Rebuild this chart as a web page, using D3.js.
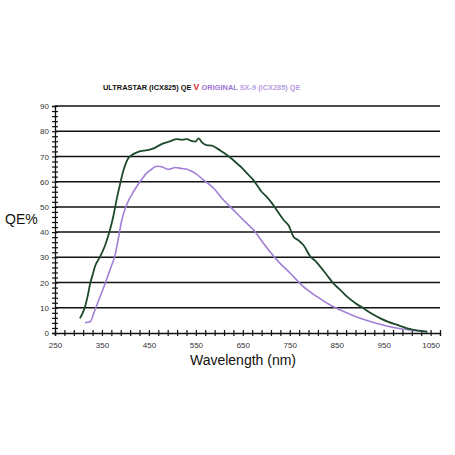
<!DOCTYPE html>
<html>
<head>
<meta charset="utf-8">
<script src="https://cdn.jsdelivr.net/npm/d3@7"></script>
<style>
  body { margin: 0; background: #fff; }
  svg { font-family: "Liberation Sans", Arial, sans-serif; }
</style>
</head>
<body>
<div id="chart"></div>
<script>
// wavelength (nm) / QE (%)
const ultraWl = [303, 309, 314, 320, 325, 330, 335, 346, 357, 367, 374, 381, 389, 396, 406, 414, 421, 430, 438, 450, 460, 470, 481, 495, 509, 520, 531, 540, 549, 556, 563, 573, 584, 595, 605, 616, 627, 637, 648, 659, 670, 680, 690, 701, 712, 723, 737, 748, 758, 768, 779, 794, 805, 815, 829, 843, 858, 872, 890, 907, 925, 943, 960, 979, 993, 1007, 1025, 1043];
const ultraQe = [5.8, 8.0, 10.4, 15.0, 19.7, 23.0, 26.3, 30.3, 34.9, 40.8, 46.1, 52.7, 59.4, 64.6, 69.3, 70.6, 71.3, 72.0, 72.3, 72.6, 73.2, 74.2, 75.2, 76.0, 76.9, 76.6, 76.9, 76.2, 75.9, 77.2, 75.6, 74.5, 74.3, 73.2, 72.0, 70.6, 69.0, 67.3, 65.5, 63.3, 61.2, 58.7, 56.0, 54.0, 51.5, 48.5, 44.8, 42.5, 38.2, 36.8, 34.9, 30.3, 28.5, 26.3, 23.0, 19.7, 17.0, 14.4, 11.8, 9.8, 7.6, 5.8, 4.4, 3.2, 2.3, 1.5, 0.9, 0.5];

const origWl = [314, 325, 335, 346, 357, 367, 378, 385, 392, 403, 417, 431, 445, 455, 463, 470, 477, 485, 492, 506, 520, 531, 540, 549, 566, 588, 609, 630, 651, 673, 694, 723, 751, 779, 808, 836, 865, 900, 936, 971, 1007, 1043];
const origQe = [4.1, 4.5, 9.1, 14.4, 19.7, 25.0, 31.0, 37.5, 44.5, 51.0, 56.0, 60.0, 63.3, 64.8, 65.9, 66.1, 65.9, 65.3, 64.9, 65.6, 65.2, 64.9, 64.2, 63.3, 60.7, 57.4, 52.7, 48.8, 44.8, 40.8, 35.6, 28.9, 23.7, 18.4, 14.4, 11.1, 8.5, 5.8, 3.8, 2.2, 1.2, 0.5];

const xLabels = [250, 350, 450, 550, 650, 750, 850, 950, 1050];
const yLabels = [0, 10, 20, 30, 40, 50, 60, 70, 80, 90];

const W = 455, H = 455;
const margin = { top: 106, right: 15, bottom: 122, left: 55 };
const width = W - margin.left - margin.right;
const height = H - margin.top - margin.bottom;

const svg = d3.select("#chart").append("svg")
    .attr("width", W)
    .attr("height", H);

const g = svg.append("g")
    .attr("transform", "translate(" + margin.left + "," + margin.top + ")");

const x = d3.scaleLinear().domain([250, 1070]).range([0, width]);
const y = d3.scaleLinear().domain([0, 90]).range([height, 0]);

// gridlines
g.append("g").selectAll("line")
    .data(yLabels.slice(1))
    .join("line")
    .attr("x1", 0)
    .attr("x2", width)
    .attr("y1", d => y(d))
    .attr("y2", d => y(d))
    .attr("stroke", "#111")
    .attr("stroke-width", 1.5);

// x axis, ticks cross the line
const xAxis = g.append("g")
    .attr("transform", "translate(0," + height + ")")
    .call(d3.axisBottom(x)
        .tickValues(d3.range(250, 1071, 20))
        .tickSize(3)
        .tickFormat(d => xLabels.includes(d) ? d : ""));
xAxis.select(".domain").attr("stroke", "#111").attr("stroke-width", 1.3);
xAxis.selectAll(".tick line").attr("y1", -3).attr("stroke", "#111").attr("stroke-width", 1.2);
xAxis.selectAll(".tick text")
    .attr("y", 9)
    .attr("font-size", 8)
    .attr("font-family", "Liberation Sans, Arial, sans-serif")
    .attr("fill", "#333");

// y axis
const yAxis = g.append("g")
    .call(d3.axisLeft(y)
        .tickValues(d3.range(0, 91, 2))
        .tickSize(3)
        .tickFormat(d => yLabels.includes(d) ? d : ""));
yAxis.select(".domain").attr("stroke", "#111").attr("stroke-width", 1.3);
yAxis.selectAll(".tick line").attr("x1", 3).attr("stroke", "#111").attr("stroke-width", 1.2);
yAxis.selectAll(".tick text")
    .attr("x", -6)
    .attr("font-size", 8)
    .attr("font-family", "Liberation Sans, Arial, sans-serif")
    .attr("fill", "#333");

const line = d3.line()
    .x(d => x(d[0]))
    .y(d => y(d[1]))
    .curve(d3.curveMonotoneX);

g.append("path")
    .datum(d3.zip(origWl, origQe))
    .attr("fill", "none")
    .attr("stroke", "#a27fd6")
    .attr("stroke-width", 1.6)
    .attr("d", line);

g.append("path")
    .datum(d3.zip(ultraWl, ultraQe))
    .attr("fill", "none")
    .attr("stroke", "#1d4a2c")
    .attr("stroke-width", 1.8)
    .attr("d", line);

// title
const title = svg.append("text")
    .attr("x", 103)
    .attr("y", 90)
    .attr("font-size", 7.4)
    .attr("font-weight", "bold");
title.append("tspan").attr("fill", "#111").text("ULTRASTAR (ICX825) QE ");
title.append("tspan").attr("fill", "#d42a2a").attr("font-size", 8.6).text(" V ");
title.append("tspan").attr("fill", "#9c74d2").text(" ORIGINAL ");
title.append("tspan").attr("fill", "#b89ee0").text("SX-9 (ICX285) QE");

// axis titles
svg.append("text")
    .attr("x", 5)
    .attr("y", 224)
    .attr("font-size", 14)
    .attr("fill", "#111")
    .text("QE%");

svg.append("text")
    .attr("x", 243)
    .attr("y", 365)
    .attr("text-anchor", "middle")
    .attr("font-size", 14)
    .attr("fill", "#111")
    .text("Wavelength (nm)");
</script>
</body>
</html>
